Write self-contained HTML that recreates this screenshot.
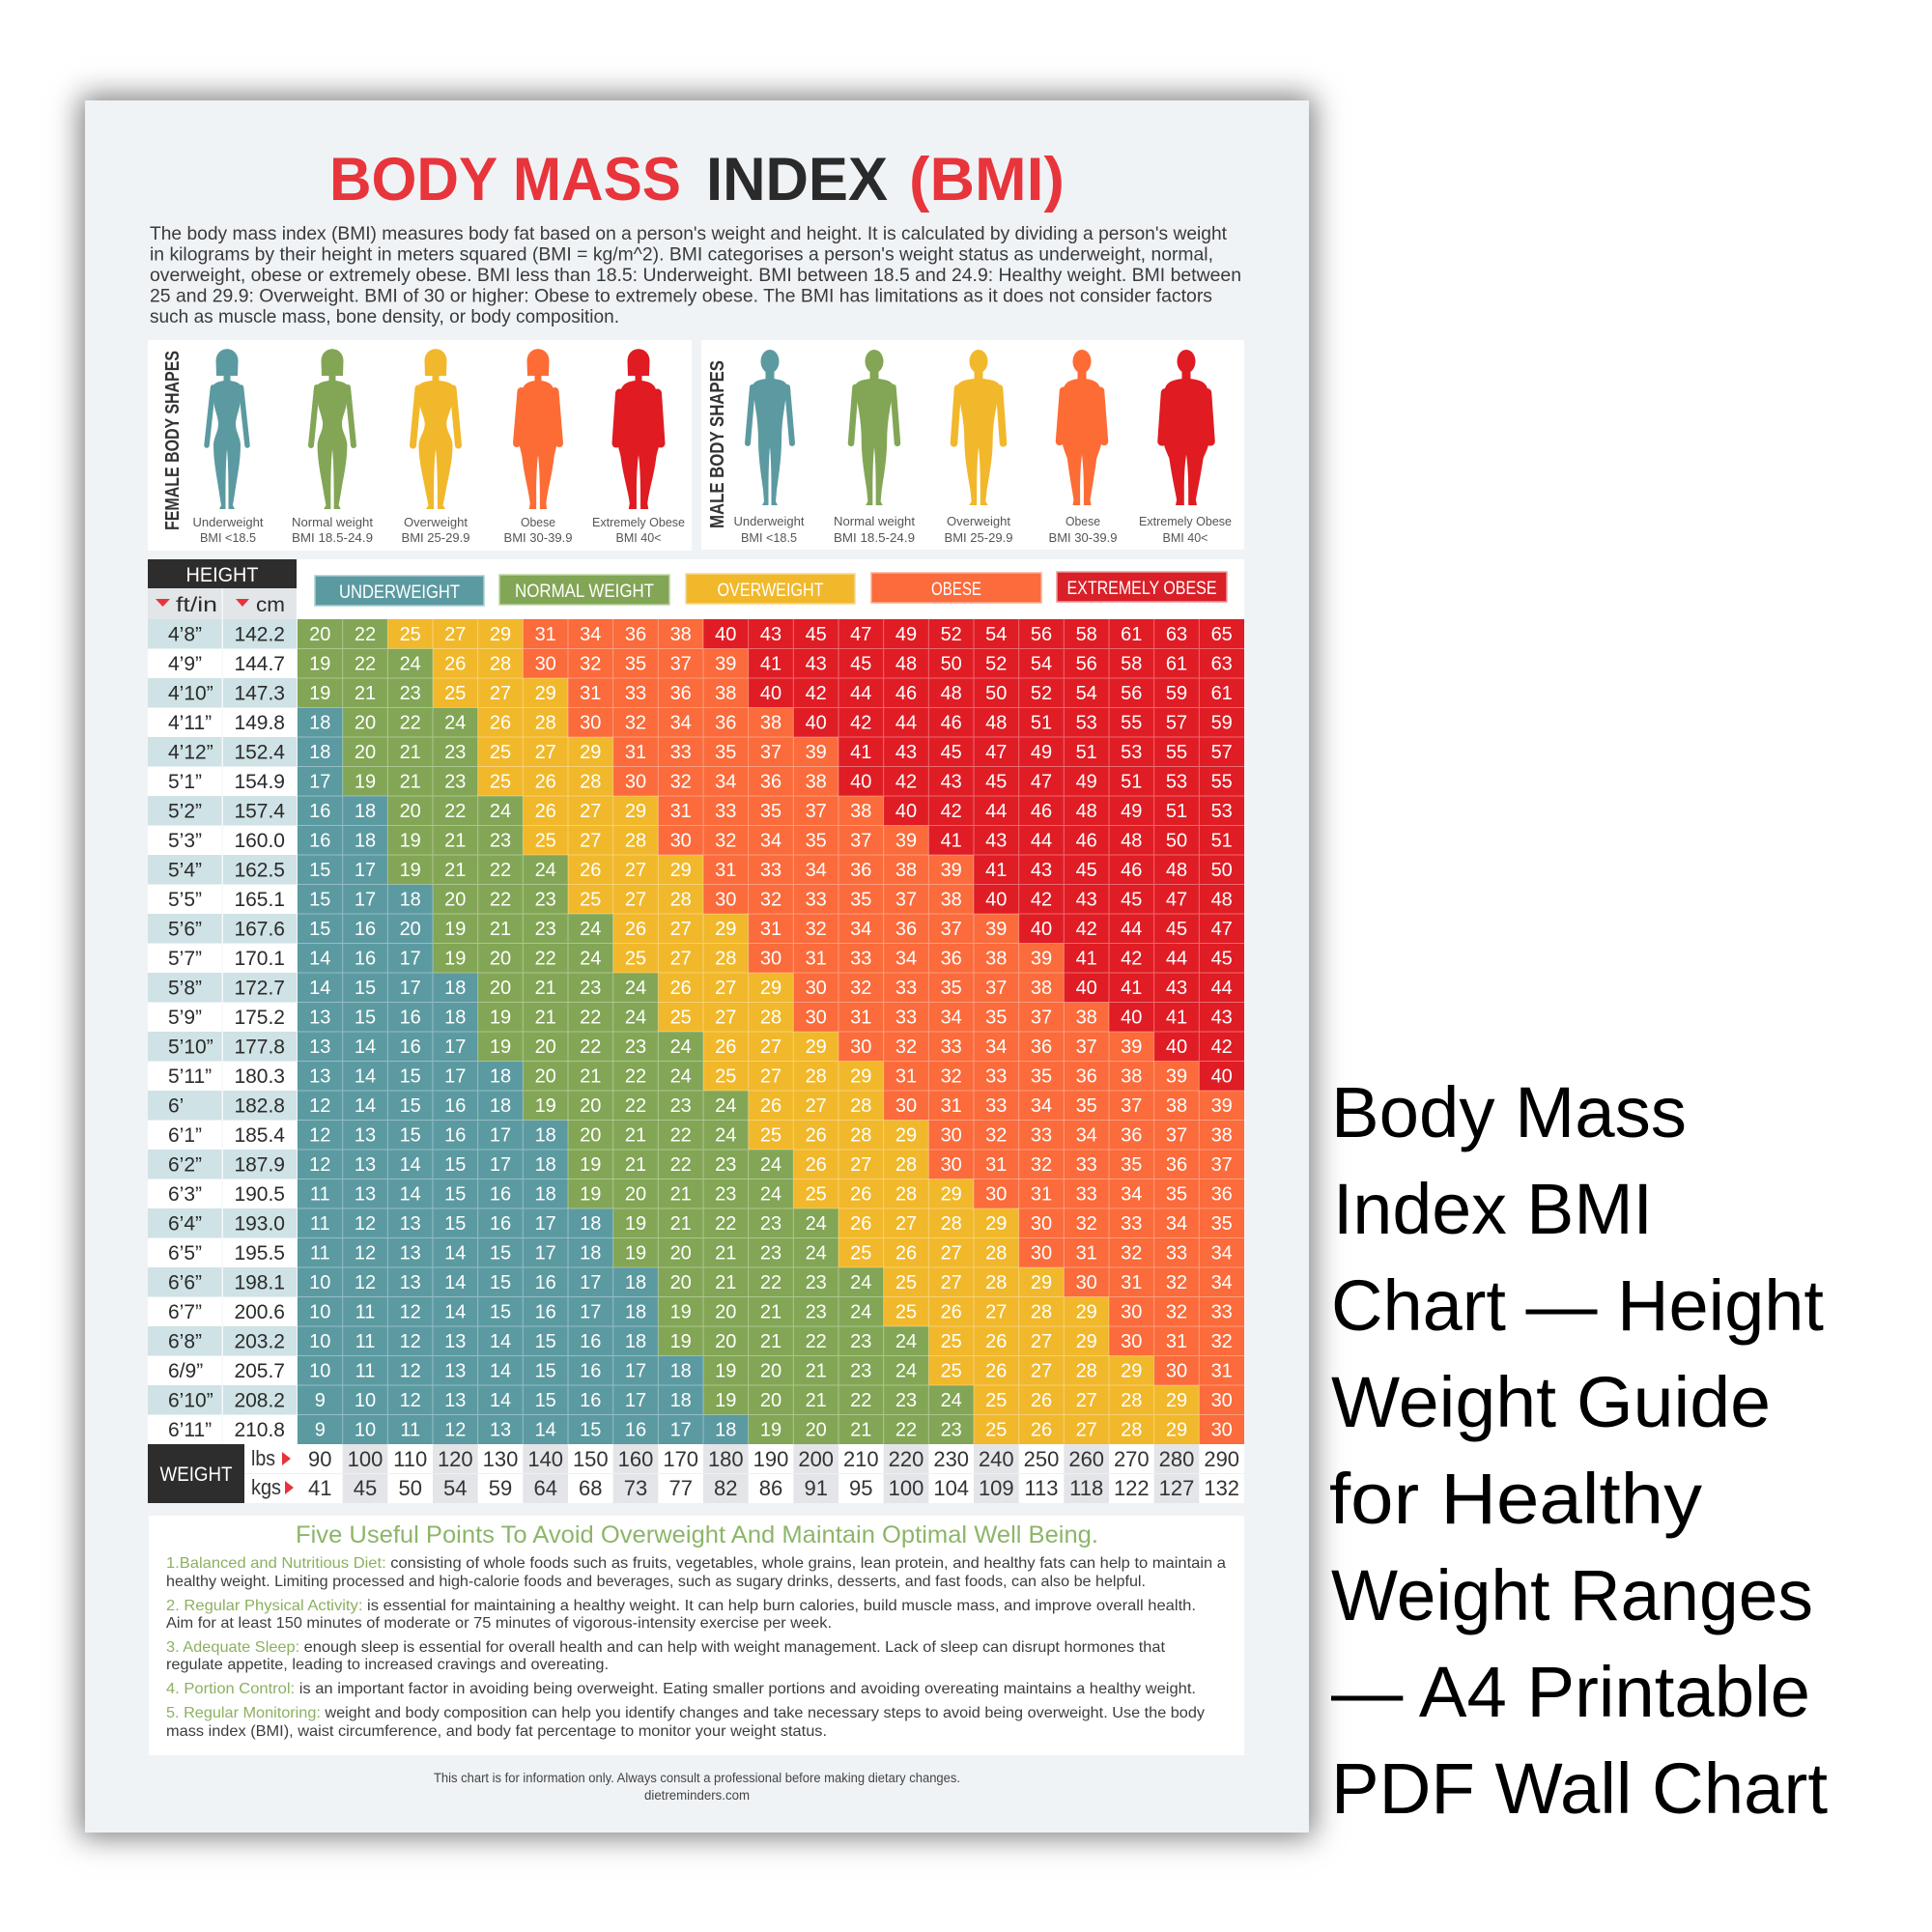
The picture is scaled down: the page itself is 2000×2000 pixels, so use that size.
<!DOCTYPE html>
<html>
<head>
<meta charset="utf-8">
<style>
html,body{margin:0;padding:0;width:2000px;height:2000px;background:#fff;overflow:hidden}
#poster{position:absolute;left:88px;top:104px;width:1267px;height:1793px;background:#f0f3f6;box-shadow:0 0 28px 5px rgba(0,0,0,.5)}
svg{position:absolute;left:0;top:0}
text{font-family:"Liberation Sans",Arial,sans-serif}
.n text{fill:#fff;font-size:20px;text-anchor:middle}
.lf{fill:#2b2b2b;font-size:21px}
.lc{fill:#2b2b2b;font-size:21px;text-anchor:end}
.w text{fill:#333;font-size:22px;text-anchor:middle}
.t{fill:#5c9aa1}.g{fill:#82a655}.y{fill:#f1b82b}.o{fill:#fb6b3b}.r{fill:#e01c24}
.fl{font-size:13px;fill:#555;text-anchor:middle}
.p{font-size:19.5px;fill:#3a3a3a}
.b{font-size:16px;fill:#3d3d3d}
.gr{fill:#8cb060}
.cat{fill:#fff;font-size:19px;text-anchor:middle}
.rt{font-size:74px;fill:#000}
</style>
</head>
<body>
<div id="poster"></div>
<svg width="2000" height="2000" viewBox="0 0 2000 2000" xmlns="http://www.w3.org/2000/svg">
<defs>
  <g id="fhead"><path d="M-11,28 L-11.5,13 C-11.5,-4 11.5,-4 11.5,13 L11,28 Z"/><rect x="-3.5" y="24" width="7" height="12"/></g>
  <path id="fthin" d="M-3.5,33 C-8,34 -14,35 -15,40 L-13,60 C-11,68 -9,73 -9,78 C-9,86 -14,92 -14,100 C-14,118 -10,135 -8,150 L-6,162 L-8,166 L-1.5,166 L-1.5,150 C-1.5,130 -1,115 0,104 C1,115 1.5,130 1.5,150 L1.5,166 L8,166 L6,162 L8,150 C10,135 14,118 14,100 C14,92 9,86 9,78 C9,73 11,68 13,60 L15,40 C14,35 8,34 3.5,33 Z"/>
  <path id="ffat" d="M-3.5,33 C-10,34 -17,36 -18,44 C-21,60 -22,75 -22,90 C-22,100 -19,106 -18,112 C-16,130 -11,145 -9,160 L-10,166 L-2,166 L-2,150 C-2,130 -1,118 0,110 C1,118 2,130 2,150 L2,166 L10,166 L9,160 C11,145 16,130 18,112 C19,106 22,100 22,90 C22,75 21,60 18,44 C17,36 10,34 3.5,33 Z"/>
  <g id="mhead"><ellipse cx="0" cy="12.5" rx="9.5" ry="12.5"/><rect x="-4.5" y="21" width="9" height="13"/></g>
  <path id="mthin" d="M-4.5,31 C-10,32 -17,33 -18,39 L-15,62 C-13,74 -12,86 -12,98 C-12,115 -9,135 -7,150 L-6,162 L-8,166 L-1.5,166 L-1.5,150 C-1.5,130 -1,115 0,104 C1,115 1.5,130 1.5,150 L1.5,166 L8,166 L6,162 L7,150 C9,135 12,115 12,98 C12,86 13,74 15,62 L18,39 C17,33 10,32 4.5,31 Z"/>
  <path id="mfat" d="M-4.5,31 C-11,32 -19,34 -20,42 C-22,60 -23,78 -22,95 C-21,105 -18,110 -16,116 C-14,132 -11,148 -9,160 L-10,166 L-2,166 L-2,150 C-2,132 -1,120 0,112 C1,120 2,132 2,150 L2,166 L10,166 L9,160 C11,148 14,132 16,116 C18,110 21,105 22,95 C23,78 22,60 20,42 C19,34 11,32 4.5,31 Z"/>
</defs>

<!-- TITLE -->
<text x="341" y="207" font-size="63" font-weight="bold" fill="#e8343b" textLength="364" lengthAdjust="spacingAndGlyphs">BODY MASS</text>
<text x="731" y="207" font-size="63" font-weight="bold" fill="#2a2a2a" textLength="188" lengthAdjust="spacingAndGlyphs">INDEX</text>
<text x="941" y="207" font-size="63" font-weight="bold" fill="#e8343b" textLength="161" lengthAdjust="spacingAndGlyphs">(BMI)</text>

<!-- INTRO -->
<text class="p" x="155" y="248" textLength="1115" lengthAdjust="spacingAndGlyphs">The body mass index (BMI) measures body fat based on a person's weight and height. It is calculated by dividing a person's weight</text>
<text class="p" x="155" y="269.5" textLength="1101" lengthAdjust="spacingAndGlyphs">in kilograms by their height in meters squared (BMI = kg/m^2). BMI categorises a person's weight status as underweight, normal,</text>
<text class="p" x="155" y="291" textLength="1130" lengthAdjust="spacingAndGlyphs">overweight, obese or extremely obese. BMI less than 18.5: Underweight. BMI between 18.5 and 24.9: Healthy weight. BMI between</text>
<text class="p" x="155" y="312.5" textLength="1100" lengthAdjust="spacingAndGlyphs">25 and 29.9: Overweight. BMI of 30 or higher: Obese to extremely obese. The BMI has limitations as it does not consider factors</text>
<text class="p" x="155" y="334" textLength="486" lengthAdjust="spacingAndGlyphs">such as muscle mass, bone density, or body composition.</text>

<!-- BODY PANELS -->
<rect x="153" y="352" width="563" height="218" fill="#fff"/>
<rect x="726" y="352" width="562" height="217" fill="#fff"/>
<text transform="translate(185,456) rotate(-90)" text-anchor="middle" font-size="20" font-weight="bold" fill="#333" textLength="186" lengthAdjust="spacingAndGlyphs">FEMALE BODY SHAPES</text>
<text transform="translate(749,460) rotate(-90)" text-anchor="middle" font-size="20" font-weight="bold" fill="#333" textLength="174" lengthAdjust="spacingAndGlyphs">MALE BODY SHAPES</text>

<g transform="translate(235,361)" fill="#5c9aa1" stroke="#5c9aa1">
  <use href="#fhead" stroke="none"/><use href="#fthin" stroke="none"/>
  <path d="M-14.5,40 L-21,100 M14.5,40 L21,100" stroke-width="5.5" stroke-linecap="round" fill="none"/>
</g>
<g transform="translate(344,361)" fill="#82a655" stroke="#82a655">
  <use href="#fhead" stroke="none"/><use href="#fthin" stroke="none" transform="scale(1.1,1)"/>
  <path d="M-16,40 L-22,100 M16,40 L22,100" stroke-width="6" stroke-linecap="round" fill="none"/>
</g>
<g transform="translate(451,361)" fill="#f1b82b" stroke="#f1b82b">
  <use href="#fhead" stroke="none"/><use href="#fthin" stroke="none" transform="scale(1.25,1)"/>
  <path d="M-18,41 L-23.5,100 M18,41 L23.5,100" stroke-width="7" stroke-linecap="round" fill="none"/>
</g>
<g transform="translate(557,361)" fill="#fd6c35" stroke="#fd6c35">
  <use href="#fhead" stroke="none"/><use href="#ffat" stroke="none" transform="scale(0.92,1)"/>
  <path d="M-17.5,44 L-22,98 M17.5,44 L22,98" stroke-width="8" stroke-linecap="round" fill="none"/>
</g>
<g transform="translate(661,361)" fill="#e01b22" stroke="#e01b22">
  <use href="#fhead" stroke="none"/><use href="#ffat" stroke="none" transform="scale(1.02,1)"/>
  <path d="M-19.5,46 L-23,98 M19.5,46 L23,98" stroke-width="9" stroke-linecap="round" fill="none"/>
</g>

<g transform="translate(797,362) scale(1,0.97)" fill="#5c9aa1" stroke="#5c9aa1">
  <use href="#mhead" stroke="none"/><use href="#mthin" stroke="none"/>
  <path d="M-18,40 L-23,100 M18,40 L23,100" stroke-width="6" stroke-linecap="round" fill="none"/>
</g>
<g transform="translate(905,362) scale(1,0.97)" fill="#82a655" stroke="#82a655">
  <use href="#mhead" stroke="none"/><use href="#mthin" stroke="none" transform="scale(1.1,1)"/>
  <path d="M-19.5,40 L-24,100 M19.5,40 L24,100" stroke-width="6.5" stroke-linecap="round" fill="none"/>
</g>
<g transform="translate(1013,362) scale(1,0.97)" fill="#f1b82b" stroke="#f1b82b">
  <use href="#mhead" stroke="none"/><use href="#mthin" stroke="none" transform="scale(1.22,1)"/>
  <path d="M-21.5,41 L-25.5,100 M21.5,41 L25.5,100" stroke-width="7.5" stroke-linecap="round" fill="none"/>
</g>
<g transform="translate(1120,362) scale(1,0.97)" fill="#fd6c35" stroke="#fd6c35">
  <use href="#mhead" stroke="none"/><use href="#mfat" stroke="none" transform="scale(0.95,1)"/>
  <path d="M-19,44 L-23,98 M19,44 L23,98" stroke-width="8.5" stroke-linecap="round" fill="none"/>
</g>
<g transform="translate(1228,362) scale(1,0.97)" fill="#e01b22" stroke="#e01b22">
  <use href="#mhead" stroke="none"/><use href="#mfat" stroke="none" transform="scale(1.1,1)"/>
  <path d="M-21.5,46 L-25,98 M21.5,46 L25,98" stroke-width="9.5" stroke-linecap="round" fill="none"/>
</g>

<g class="fl">
<text x="236" y="545" textLength="73" lengthAdjust="spacingAndGlyphs">Underweight</text>
<text x="344" y="545" textLength="84" lengthAdjust="spacingAndGlyphs">Normal weight</text>
<text x="451" y="545" textLength="66" lengthAdjust="spacingAndGlyphs">Overweight</text>
<text x="557" y="545" textLength="36" lengthAdjust="spacingAndGlyphs">Obese</text>
<text x="661" y="545" textLength="96" lengthAdjust="spacingAndGlyphs">Extremely Obese</text>
<text x="236" y="561" textLength="58" lengthAdjust="spacingAndGlyphs">BMI &lt;18.5</text>
<text x="344" y="561" textLength="84" lengthAdjust="spacingAndGlyphs">BMI 18.5-24.9</text>
<text x="451" y="561" textLength="71" lengthAdjust="spacingAndGlyphs">BMI 25-29.9</text>
<text x="557" y="561" textLength="71" lengthAdjust="spacingAndGlyphs">BMI 30-39.9</text>
<text x="661" y="561" textLength="47" lengthAdjust="spacingAndGlyphs">BMI 40&lt;</text>
<text x="796" y="544" textLength="73" lengthAdjust="spacingAndGlyphs">Underweight</text>
<text x="905" y="544" textLength="84" lengthAdjust="spacingAndGlyphs">Normal weight</text>
<text x="1013" y="544" textLength="66" lengthAdjust="spacingAndGlyphs">Overweight</text>
<text x="1121" y="544" textLength="36" lengthAdjust="spacingAndGlyphs">Obese</text>
<text x="1227" y="544" textLength="96" lengthAdjust="spacingAndGlyphs">Extremely Obese</text>
<text x="796" y="561" textLength="58" lengthAdjust="spacingAndGlyphs">BMI &lt;18.5</text>
<text x="905" y="561" textLength="84" lengthAdjust="spacingAndGlyphs">BMI 18.5-24.9</text>
<text x="1013" y="561" textLength="71" lengthAdjust="spacingAndGlyphs">BMI 25-29.9</text>
<text x="1121" y="561" textLength="71" lengthAdjust="spacingAndGlyphs">BMI 30-39.9</text>
<text x="1227" y="561" textLength="47" lengthAdjust="spacingAndGlyphs">BMI 40&lt;</text>
</g>

<!-- TABLE HEADER -->
<rect x="307" y="579" width="981" height="62" fill="#fff"/>
<rect x="153" y="579" width="154" height="30" fill="#2d2d2d"/>
<text x="230" y="602" text-anchor="middle" font-size="21" fill="#fff" textLength="75" lengthAdjust="spacingAndGlyphs">HEIGHT</text>
<rect x="153" y="609" width="154" height="32" fill="#e3e6e9"/>
<rect x="229.5" y="609" width="1.5" height="32" fill="#f4f6f7"/>
<polygon points="161,620 176,620 168.5,628" fill="#e8333a"/>
<polygon points="244,620 258,620 251,628" fill="#e8333a"/>
<text x="182" y="633" font-size="21" fill="#2b2b2b" textLength="43" lengthAdjust="spacingAndGlyphs">ft/in</text>
<text x="265" y="633" font-size="21" fill="#2b2b2b" textLength="30" lengthAdjust="spacingAndGlyphs">cm</text>

<rect x="326" y="596" width="175" height="31" fill="#5c9aa1" stroke="#a9cdd1" stroke-width="1.5"/>
<rect x="517" y="595" width="176" height="31" fill="#82a655" stroke="#bcd5a0" stroke-width="1.5"/>
<rect x="710" y="594" width="175" height="31" fill="#f1b82b" stroke="#f7d98a" stroke-width="1.5"/>
<rect x="902" y="593" width="176" height="31" fill="#fb6b3b" stroke="#fcae92" stroke-width="1.5"/>
<rect x="1094" y="592" width="176" height="31" fill="#d91f28" stroke="#f09a9a" stroke-width="1.5"/>
<text class="cat" x="413.5" y="619" textLength="125" lengthAdjust="spacingAndGlyphs">UNDERWEIGHT</text>
<text class="cat" x="605" y="618" textLength="144" lengthAdjust="spacingAndGlyphs">NORMAL WEIGHT</text>
<text class="cat" x="797.5" y="617" textLength="110" lengthAdjust="spacingAndGlyphs">OVERWEIGHT</text>
<text class="cat" x="990" y="616" textLength="52" lengthAdjust="spacingAndGlyphs">OBESE</text>
<text class="cat" x="1182" y="615" textLength="155" lengthAdjust="spacingAndGlyphs">EXTREMELY OBESE</text>

<!-- LEFT LABEL COLUMN BACKGROUND -->
<rect x="153" y="641" width="154" height="854" fill="#fff"/>
<g fill="#cfe2e5">
<rect x="153" y="641" width="154" height="30.5"/>
<rect x="153" y="702" width="154" height="30.5"/>
<rect x="153" y="763" width="154" height="30.5"/>
<rect x="153" y="824" width="154" height="30.5"/>
<rect x="153" y="885" width="154" height="30.5"/>
<rect x="153" y="946" width="154" height="30.5"/>
<rect x="153" y="1007" width="154" height="30.5"/>
<rect x="153" y="1068" width="154" height="30.5"/>
<rect x="153" y="1129" width="154" height="30.5"/>
<rect x="153" y="1190" width="154" height="30.5"/>
<rect x="153" y="1251" width="154" height="30.5"/>
<rect x="153" y="1312" width="154" height="30.5"/>
<rect x="153" y="1373" width="154" height="30.5"/>
<rect x="153" y="1434" width="154" height="30.5"/>
</g>
<rect x="229.5" y="641" width="1.5" height="854" fill="#f4f8f9"/>

<!-- DATA COLOR RUNS -->
<g transform="translate(308,641)"><rect class="r" width="980" height="30.5"/><rect class="o" width="420" height="30.5"/><rect class="y" width="233.33" height="30.5"/><rect class="g" width="93.33" height="30.5"/></g>
<g transform="translate(308,671.5)"><rect class="r" width="980" height="30.5"/><rect class="o" width="466.67" height="30.5"/><rect class="y" width="233.33" height="30.5"/><rect class="g" width="140" height="30.5"/></g>
<g transform="translate(308,702)"><rect class="r" width="980" height="30.5"/><rect class="o" width="466.67" height="30.5"/><rect class="y" width="280" height="30.5"/><rect class="g" width="140" height="30.5"/></g>
<g transform="translate(308,732.5)"><rect class="r" width="980" height="30.5"/><rect class="o" width="513.33" height="30.5"/><rect class="y" width="280" height="30.5"/><rect class="g" width="186.67" height="30.5"/><rect class="t" width="46.67" height="30.5"/></g>
<g transform="translate(308,763)"><rect class="r" width="980" height="30.5"/><rect class="o" width="560" height="30.5"/><rect class="y" width="326.67" height="30.5"/><rect class="g" width="186.67" height="30.5"/><rect class="t" width="46.67" height="30.5"/></g>
<g transform="translate(308,793.5)"><rect class="r" width="980" height="30.5"/><rect class="o" width="560" height="30.5"/><rect class="y" width="326.67" height="30.5"/><rect class="g" width="186.67" height="30.5"/><rect class="t" width="46.67" height="30.5"/></g>
<g transform="translate(308,824)"><rect class="r" width="980" height="30.5"/><rect class="o" width="606.67" height="30.5"/><rect class="y" width="373.33" height="30.5"/><rect class="g" width="233.33" height="30.5"/><rect class="t" width="93.33" height="30.5"/></g>
<g transform="translate(308,854.5)"><rect class="r" width="980" height="30.5"/><rect class="o" width="653.33" height="30.5"/><rect class="y" width="373.33" height="30.5"/><rect class="g" width="233.33" height="30.5"/><rect class="t" width="93.33" height="30.5"/></g>
<g transform="translate(308,885)"><rect class="r" width="980" height="30.5"/><rect class="o" width="700" height="30.5"/><rect class="y" width="420" height="30.5"/><rect class="g" width="280" height="30.5"/><rect class="t" width="93.33" height="30.5"/></g>
<g transform="translate(308,915.5)"><rect class="r" width="980" height="30.5"/><rect class="o" width="700" height="30.5"/><rect class="y" width="420" height="30.5"/><rect class="g" width="280" height="30.5"/><rect class="t" width="140" height="30.5"/></g>
<g transform="translate(308,946)"><rect class="r" width="980" height="30.5"/><rect class="o" width="746.67" height="30.5"/><rect class="y" width="466.67" height="30.5"/><rect class="g" width="326.67" height="30.5"/><rect class="t" width="140" height="30.5"/></g>
<g transform="translate(308,976.5)"><rect class="r" width="980" height="30.5"/><rect class="o" width="793.33" height="30.5"/><rect class="y" width="466.67" height="30.5"/><rect class="g" width="326.67" height="30.5"/><rect class="t" width="140" height="30.5"/></g>
<g transform="translate(308,1007)"><rect class="r" width="980" height="30.5"/><rect class="o" width="793.33" height="30.5"/><rect class="y" width="513.33" height="30.5"/><rect class="g" width="373.33" height="30.5"/><rect class="t" width="186.67" height="30.5"/></g>
<g transform="translate(308,1037.5)"><rect class="r" width="980" height="30.5"/><rect class="o" width="840" height="30.5"/><rect class="y" width="513.33" height="30.5"/><rect class="g" width="373.33" height="30.5"/><rect class="t" width="186.67" height="30.5"/></g>
<g transform="translate(308,1068)"><rect class="r" width="980" height="30.5"/><rect class="o" width="886.67" height="30.5"/><rect class="y" width="560" height="30.5"/><rect class="g" width="420" height="30.5"/><rect class="t" width="186.67" height="30.5"/></g>
<g transform="translate(308,1098.5)"><rect class="r" width="980" height="30.5"/><rect class="o" width="933.33" height="30.5"/><rect class="y" width="606.67" height="30.5"/><rect class="g" width="420" height="30.5"/><rect class="t" width="233.33" height="30.5"/></g>
<g transform="translate(308,1129)"><rect class="o" width="980" height="30.5"/><rect class="y" width="606.67" height="30.5"/><rect class="g" width="466.67" height="30.5"/><rect class="t" width="233.33" height="30.5"/></g>
<g transform="translate(308,1159.5)"><rect class="o" width="980" height="30.5"/><rect class="y" width="653.33" height="30.5"/><rect class="g" width="466.67" height="30.5"/><rect class="t" width="280" height="30.5"/></g>
<g transform="translate(308,1190)"><rect class="o" width="980" height="30.5"/><rect class="y" width="653.33" height="30.5"/><rect class="g" width="513.33" height="30.5"/><rect class="t" width="280" height="30.5"/></g>
<g transform="translate(308,1220.5)"><rect class="o" width="980" height="30.5"/><rect class="y" width="700" height="30.5"/><rect class="g" width="513.33" height="30.5"/><rect class="t" width="280" height="30.5"/></g>
<g transform="translate(308,1251)"><rect class="o" width="980" height="30.5"/><rect class="y" width="746.67" height="30.5"/><rect class="g" width="560" height="30.5"/><rect class="t" width="326.67" height="30.5"/></g>
<g transform="translate(308,1281.5)"><rect class="o" width="980" height="30.5"/><rect class="y" width="746.67" height="30.5"/><rect class="g" width="560" height="30.5"/><rect class="t" width="326.67" height="30.5"/></g>
<g transform="translate(308,1312)"><rect class="o" width="980" height="30.5"/><rect class="y" width="793.33" height="30.5"/><rect class="g" width="606.67" height="30.5"/><rect class="t" width="373.33" height="30.5"/></g>
<g transform="translate(308,1342.5)"><rect class="o" width="980" height="30.5"/><rect class="y" width="840" height="30.5"/><rect class="g" width="606.67" height="30.5"/><rect class="t" width="373.33" height="30.5"/></g>
<g transform="translate(308,1373)"><rect class="o" width="980" height="30.5"/><rect class="y" width="840" height="30.5"/><rect class="g" width="653.33" height="30.5"/><rect class="t" width="373.33" height="30.5"/></g>
<g transform="translate(308,1403.5)"><rect class="o" width="980" height="30.5"/><rect class="y" width="886.67" height="30.5"/><rect class="g" width="653.33" height="30.5"/><rect class="t" width="420" height="30.5"/></g>
<g transform="translate(308,1434)"><rect class="o" width="980" height="30.5"/><rect class="y" width="933.33" height="30.5"/><rect class="g" width="700" height="30.5"/><rect class="t" width="420" height="30.5"/></g>
<g transform="translate(308,1464.5)"><rect class="o" width="980" height="30.5"/><rect class="y" width="933.33" height="30.5"/><rect class="g" width="700" height="30.5"/><rect class="t" width="466.67" height="30.5"/></g>

<!-- GRID LINES -->
<path stroke="rgba(255,255,255,0.35)" stroke-width="1" fill="none" d="M354.67,641V1495M401.33,641V1495M448,641V1495M494.67,641V1495M541.33,641V1495M588,641V1495M634.67,641V1495M681.33,641V1495M728,641V1495M774.67,641V1495M821.33,641V1495M868,641V1495M914.67,641V1495M961.33,641V1495M1008,641V1495M1054.67,641V1495M1101.33,641V1495M1148,641V1495M1194.67,641V1495M1241.33,641V1495
M308,671.5H1288M308,702H1288M308,732.5H1288M308,763H1288M308,793.5H1288M308,824H1288M308,854.5H1288M308,885H1288M308,915.5H1288M308,946H1288M308,976.5H1288M308,1007H1288M308,1037.5H1288M308,1068H1288M308,1098.5H1288M308,1129H1288M308,1159.5H1288M308,1190H1288M308,1220.5H1288M308,1251H1288M308,1281.5H1288M308,1312H1288M308,1342.5H1288M308,1373H1288M308,1403.5H1288M308,1434H1288M308,1464.5H1288"/>

<!-- ROW LABELS -->
<g>
<text class="lf" x="174" y="663.5">4’8”</text><text class="lc" x="295" y="663.5">142.2</text>
<text class="lf" x="174" y="694">4’9”</text><text class="lc" x="295" y="694">144.7</text>
<text class="lf" x="174" y="724.5">4’10”</text><text class="lc" x="295" y="724.5">147.3</text>
<text class="lf" x="174" y="755">4’11”</text><text class="lc" x="295" y="755">149.8</text>
<text class="lf" x="174" y="785.5">4’12”</text><text class="lc" x="295" y="785.5">152.4</text>
<text class="lf" x="174" y="816">5’1”</text><text class="lc" x="295" y="816">154.9</text>
<text class="lf" x="174" y="846.5">5’2”</text><text class="lc" x="295" y="846.5">157.4</text>
<text class="lf" x="174" y="877">5’3”</text><text class="lc" x="295" y="877">160.0</text>
<text class="lf" x="174" y="907.5">5’4”</text><text class="lc" x="295" y="907.5">162.5</text>
<text class="lf" x="174" y="938">5’5”</text><text class="lc" x="295" y="938">165.1</text>
<text class="lf" x="174" y="968.5">5’6”</text><text class="lc" x="295" y="968.5">167.6</text>
<text class="lf" x="174" y="999">5’7”</text><text class="lc" x="295" y="999">170.1</text>
<text class="lf" x="174" y="1029.5">5’8”</text><text class="lc" x="295" y="1029.5">172.7</text>
<text class="lf" x="174" y="1060">5’9”</text><text class="lc" x="295" y="1060">175.2</text>
<text class="lf" x="174" y="1090.5">5’10”</text><text class="lc" x="295" y="1090.5">177.8</text>
<text class="lf" x="174" y="1121">5’11”</text><text class="lc" x="295" y="1121">180.3</text>
<text class="lf" x="174" y="1151.5">6’</text><text class="lc" x="295" y="1151.5">182.8</text>
<text class="lf" x="174" y="1182">6’1”</text><text class="lc" x="295" y="1182">185.4</text>
<text class="lf" x="174" y="1212.5">6’2”</text><text class="lc" x="295" y="1212.5">187.9</text>
<text class="lf" x="174" y="1243">6’3”</text><text class="lc" x="295" y="1243">190.5</text>
<text class="lf" x="174" y="1273.5">6’4”</text><text class="lc" x="295" y="1273.5">193.0</text>
<text class="lf" x="174" y="1304">6’5”</text><text class="lc" x="295" y="1304">195.5</text>
<text class="lf" x="174" y="1334.5">6’6”</text><text class="lc" x="295" y="1334.5">198.1</text>
<text class="lf" x="174" y="1365">6’7”</text><text class="lc" x="295" y="1365">200.6</text>
<text class="lf" x="174" y="1395.5">6’8”</text><text class="lc" x="295" y="1395.5">203.2</text>
<text class="lf" x="174" y="1426">6/9”</text><text class="lc" x="295" y="1426">205.7</text>
<text class="lf" x="174" y="1456.5">6’10”</text><text class="lc" x="295" y="1456.5">208.2</text>
<text class="lf" x="174" y="1487">6’11”</text><text class="lc" x="295" y="1487">210.8</text>
</g>

<!-- DATA NUMBERS -->
<g class="n" transform="translate(0,663)"><text x="331.3">20</text><text x="378">22</text><text x="424.7">25</text><text x="471.3">27</text><text x="518">29</text><text x="564.7">31</text><text x="611.3">34</text><text x="658">36</text><text x="704.7">38</text><text x="751.3">40</text><text x="798">43</text><text x="844.7">45</text><text x="891.3">47</text><text x="938">49</text><text x="984.7">52</text><text x="1031.3">54</text><text x="1078">56</text><text x="1124.7">58</text><text x="1171.3">61</text><text x="1218">63</text><text x="1264.7">65</text></g>
<g class="n" transform="translate(0,693.5)"><text x="331.3">19</text><text x="378">22</text><text x="424.7">24</text><text x="471.3">26</text><text x="518">28</text><text x="564.7">30</text><text x="611.3">32</text><text x="658">35</text><text x="704.7">37</text><text x="751.3">39</text><text x="798">41</text><text x="844.7">43</text><text x="891.3">45</text><text x="938">48</text><text x="984.7">50</text><text x="1031.3">52</text><text x="1078">54</text><text x="1124.7">56</text><text x="1171.3">58</text><text x="1218">61</text><text x="1264.7">63</text></g>
<g class="n" transform="translate(0,724)"><text x="331.3">19</text><text x="378">21</text><text x="424.7">23</text><text x="471.3">25</text><text x="518">27</text><text x="564.7">29</text><text x="611.3">31</text><text x="658">33</text><text x="704.7">36</text><text x="751.3">38</text><text x="798">40</text><text x="844.7">42</text><text x="891.3">44</text><text x="938">46</text><text x="984.7">48</text><text x="1031.3">50</text><text x="1078">52</text><text x="1124.7">54</text><text x="1171.3">56</text><text x="1218">59</text><text x="1264.7">61</text></g>
<g class="n" transform="translate(0,754.5)"><text x="331.3">18</text><text x="378">20</text><text x="424.7">22</text><text x="471.3">24</text><text x="518">26</text><text x="564.7">28</text><text x="611.3">30</text><text x="658">32</text><text x="704.7">34</text><text x="751.3">36</text><text x="798">38</text><text x="844.7">40</text><text x="891.3">42</text><text x="938">44</text><text x="984.7">46</text><text x="1031.3">48</text><text x="1078">51</text><text x="1124.7">53</text><text x="1171.3">55</text><text x="1218">57</text><text x="1264.7">59</text></g>
<g class="n" transform="translate(0,785)"><text x="331.3">18</text><text x="378">20</text><text x="424.7">21</text><text x="471.3">23</text><text x="518">25</text><text x="564.7">27</text><text x="611.3">29</text><text x="658">31</text><text x="704.7">33</text><text x="751.3">35</text><text x="798">37</text><text x="844.7">39</text><text x="891.3">41</text><text x="938">43</text><text x="984.7">45</text><text x="1031.3">47</text><text x="1078">49</text><text x="1124.7">51</text><text x="1171.3">53</text><text x="1218">55</text><text x="1264.7">57</text></g>
<g class="n" transform="translate(0,815.5)"><text x="331.3">17</text><text x="378">19</text><text x="424.7">21</text><text x="471.3">23</text><text x="518">25</text><text x="564.7">26</text><text x="611.3">28</text><text x="658">30</text><text x="704.7">32</text><text x="751.3">34</text><text x="798">36</text><text x="844.7">38</text><text x="891.3">40</text><text x="938">42</text><text x="984.7">43</text><text x="1031.3">45</text><text x="1078">47</text><text x="1124.7">49</text><text x="1171.3">51</text><text x="1218">53</text><text x="1264.7">55</text></g>
<g class="n" transform="translate(0,846)"><text x="331.3">16</text><text x="378">18</text><text x="424.7">20</text><text x="471.3">22</text><text x="518">24</text><text x="564.7">26</text><text x="611.3">27</text><text x="658">29</text><text x="704.7">31</text><text x="751.3">33</text><text x="798">35</text><text x="844.7">37</text><text x="891.3">38</text><text x="938">40</text><text x="984.7">42</text><text x="1031.3">44</text><text x="1078">46</text><text x="1124.7">48</text><text x="1171.3">49</text><text x="1218">51</text><text x="1264.7">53</text></g>
<g class="n" transform="translate(0,876.5)"><text x="331.3">16</text><text x="378">18</text><text x="424.7">19</text><text x="471.3">21</text><text x="518">23</text><text x="564.7">25</text><text x="611.3">27</text><text x="658">28</text><text x="704.7">30</text><text x="751.3">32</text><text x="798">34</text><text x="844.7">35</text><text x="891.3">37</text><text x="938">39</text><text x="984.7">41</text><text x="1031.3">43</text><text x="1078">44</text><text x="1124.7">46</text><text x="1171.3">48</text><text x="1218">50</text><text x="1264.7">51</text></g>
<g class="n" transform="translate(0,907)"><text x="331.3">15</text><text x="378">17</text><text x="424.7">19</text><text x="471.3">21</text><text x="518">22</text><text x="564.7">24</text><text x="611.3">26</text><text x="658">27</text><text x="704.7">29</text><text x="751.3">31</text><text x="798">33</text><text x="844.7">34</text><text x="891.3">36</text><text x="938">38</text><text x="984.7">39</text><text x="1031.3">41</text><text x="1078">43</text><text x="1124.7">45</text><text x="1171.3">46</text><text x="1218">48</text><text x="1264.7">50</text></g>
<g class="n" transform="translate(0,937.5)"><text x="331.3">15</text><text x="378">17</text><text x="424.7">18</text><text x="471.3">20</text><text x="518">22</text><text x="564.7">23</text><text x="611.3">25</text><text x="658">27</text><text x="704.7">28</text><text x="751.3">30</text><text x="798">32</text><text x="844.7">33</text><text x="891.3">35</text><text x="938">37</text><text x="984.7">38</text><text x="1031.3">40</text><text x="1078">42</text><text x="1124.7">43</text><text x="1171.3">45</text><text x="1218">47</text><text x="1264.7">48</text></g>
<g class="n" transform="translate(0,968)"><text x="331.3">15</text><text x="378">16</text><text x="424.7">20</text><text x="471.3">19</text><text x="518">21</text><text x="564.7">23</text><text x="611.3">24</text><text x="658">26</text><text x="704.7">27</text><text x="751.3">29</text><text x="798">31</text><text x="844.7">32</text><text x="891.3">34</text><text x="938">36</text><text x="984.7">37</text><text x="1031.3">39</text><text x="1078">40</text><text x="1124.7">42</text><text x="1171.3">44</text><text x="1218">45</text><text x="1264.7">47</text></g>
<g class="n" transform="translate(0,998.5)"><text x="331.3">14</text><text x="378">16</text><text x="424.7">17</text><text x="471.3">19</text><text x="518">20</text><text x="564.7">22</text><text x="611.3">24</text><text x="658">25</text><text x="704.7">27</text><text x="751.3">28</text><text x="798">30</text><text x="844.7">31</text><text x="891.3">33</text><text x="938">34</text><text x="984.7">36</text><text x="1031.3">38</text><text x="1078">39</text><text x="1124.7">41</text><text x="1171.3">42</text><text x="1218">44</text><text x="1264.7">45</text></g>
<g class="n" transform="translate(0,1029)"><text x="331.3">14</text><text x="378">15</text><text x="424.7">17</text><text x="471.3">18</text><text x="518">20</text><text x="564.7">21</text><text x="611.3">23</text><text x="658">24</text><text x="704.7">26</text><text x="751.3">27</text><text x="798">29</text><text x="844.7">30</text><text x="891.3">32</text><text x="938">33</text><text x="984.7">35</text><text x="1031.3">37</text><text x="1078">38</text><text x="1124.7">40</text><text x="1171.3">41</text><text x="1218">43</text><text x="1264.7">44</text></g>
<g class="n" transform="translate(0,1059.5)"><text x="331.3">13</text><text x="378">15</text><text x="424.7">16</text><text x="471.3">18</text><text x="518">19</text><text x="564.7">21</text><text x="611.3">22</text><text x="658">24</text><text x="704.7">25</text><text x="751.3">27</text><text x="798">28</text><text x="844.7">30</text><text x="891.3">31</text><text x="938">33</text><text x="984.7">34</text><text x="1031.3">35</text><text x="1078">37</text><text x="1124.7">38</text><text x="1171.3">40</text><text x="1218">41</text><text x="1264.7">43</text></g>
<g class="n" transform="translate(0,1090)"><text x="331.3">13</text><text x="378">14</text><text x="424.7">16</text><text x="471.3">17</text><text x="518">19</text><text x="564.7">20</text><text x="611.3">22</text><text x="658">23</text><text x="704.7">24</text><text x="751.3">26</text><text x="798">27</text><text x="844.7">29</text><text x="891.3">30</text><text x="938">32</text><text x="984.7">33</text><text x="1031.3">34</text><text x="1078">36</text><text x="1124.7">37</text><text x="1171.3">39</text><text x="1218">40</text><text x="1264.7">42</text></g>
<g class="n" transform="translate(0,1120.5)"><text x="331.3">13</text><text x="378">14</text><text x="424.7">15</text><text x="471.3">17</text><text x="518">18</text><text x="564.7">20</text><text x="611.3">21</text><text x="658">22</text><text x="704.7">24</text><text x="751.3">25</text><text x="798">27</text><text x="844.7">28</text><text x="891.3">29</text><text x="938">31</text><text x="984.7">32</text><text x="1031.3">33</text><text x="1078">35</text><text x="1124.7">36</text><text x="1171.3">38</text><text x="1218">39</text><text x="1264.7">40</text></g>
<g class="n" transform="translate(0,1151)"><text x="331.3">12</text><text x="378">14</text><text x="424.7">15</text><text x="471.3">16</text><text x="518">18</text><text x="564.7">19</text><text x="611.3">20</text><text x="658">22</text><text x="704.7">23</text><text x="751.3">24</text><text x="798">26</text><text x="844.7">27</text><text x="891.3">28</text><text x="938">30</text><text x="984.7">31</text><text x="1031.3">33</text><text x="1078">34</text><text x="1124.7">35</text><text x="1171.3">37</text><text x="1218">38</text><text x="1264.7">39</text></g>
<g class="n" transform="translate(0,1181.5)"><text x="331.3">12</text><text x="378">13</text><text x="424.7">15</text><text x="471.3">16</text><text x="518">17</text><text x="564.7">18</text><text x="611.3">20</text><text x="658">21</text><text x="704.7">22</text><text x="751.3">24</text><text x="798">25</text><text x="844.7">26</text><text x="891.3">28</text><text x="938">29</text><text x="984.7">30</text><text x="1031.3">32</text><text x="1078">33</text><text x="1124.7">34</text><text x="1171.3">36</text><text x="1218">37</text><text x="1264.7">38</text></g>
<g class="n" transform="translate(0,1212)"><text x="331.3">12</text><text x="378">13</text><text x="424.7">14</text><text x="471.3">15</text><text x="518">17</text><text x="564.7">18</text><text x="611.3">19</text><text x="658">21</text><text x="704.7">22</text><text x="751.3">23</text><text x="798">24</text><text x="844.7">26</text><text x="891.3">27</text><text x="938">28</text><text x="984.7">30</text><text x="1031.3">31</text><text x="1078">32</text><text x="1124.7">33</text><text x="1171.3">35</text><text x="1218">36</text><text x="1264.7">37</text></g>
<g class="n" transform="translate(0,1242.5)"><text x="331.3">11</text><text x="378">13</text><text x="424.7">14</text><text x="471.3">15</text><text x="518">16</text><text x="564.7">18</text><text x="611.3">19</text><text x="658">20</text><text x="704.7">21</text><text x="751.3">23</text><text x="798">24</text><text x="844.7">25</text><text x="891.3">26</text><text x="938">28</text><text x="984.7">29</text><text x="1031.3">30</text><text x="1078">31</text><text x="1124.7">33</text><text x="1171.3">34</text><text x="1218">35</text><text x="1264.7">36</text></g>
<g class="n" transform="translate(0,1273)"><text x="331.3">11</text><text x="378">12</text><text x="424.7">13</text><text x="471.3">15</text><text x="518">16</text><text x="564.7">17</text><text x="611.3">18</text><text x="658">19</text><text x="704.7">21</text><text x="751.3">22</text><text x="798">23</text><text x="844.7">24</text><text x="891.3">26</text><text x="938">27</text><text x="984.7">28</text><text x="1031.3">29</text><text x="1078">30</text><text x="1124.7">32</text><text x="1171.3">33</text><text x="1218">34</text><text x="1264.7">35</text></g>
<g class="n" transform="translate(0,1303.5)"><text x="331.3">11</text><text x="378">12</text><text x="424.7">13</text><text x="471.3">14</text><text x="518">15</text><text x="564.7">17</text><text x="611.3">18</text><text x="658">19</text><text x="704.7">20</text><text x="751.3">21</text><text x="798">23</text><text x="844.7">24</text><text x="891.3">25</text><text x="938">26</text><text x="984.7">27</text><text x="1031.3">28</text><text x="1078">30</text><text x="1124.7">31</text><text x="1171.3">32</text><text x="1218">33</text><text x="1264.7">34</text></g>
<g class="n" transform="translate(0,1334)"><text x="331.3">10</text><text x="378">12</text><text x="424.7">13</text><text x="471.3">14</text><text x="518">15</text><text x="564.7">16</text><text x="611.3">17</text><text x="658">18</text><text x="704.7">20</text><text x="751.3">21</text><text x="798">22</text><text x="844.7">23</text><text x="891.3">24</text><text x="938">25</text><text x="984.7">27</text><text x="1031.3">28</text><text x="1078">29</text><text x="1124.7">30</text><text x="1171.3">31</text><text x="1218">32</text><text x="1264.7">34</text></g>
<g class="n" transform="translate(0,1364.5)"><text x="331.3">10</text><text x="378">11</text><text x="424.7">12</text><text x="471.3">14</text><text x="518">15</text><text x="564.7">16</text><text x="611.3">17</text><text x="658">18</text><text x="704.7">19</text><text x="751.3">20</text><text x="798">21</text><text x="844.7">23</text><text x="891.3">24</text><text x="938">25</text><text x="984.7">26</text><text x="1031.3">27</text><text x="1078">28</text><text x="1124.7">29</text><text x="1171.3">30</text><text x="1218">32</text><text x="1264.7">33</text></g>
<g class="n" transform="translate(0,1395)"><text x="331.3">10</text><text x="378">11</text><text x="424.7">12</text><text x="471.3">13</text><text x="518">14</text><text x="564.7">15</text><text x="611.3">16</text><text x="658">18</text><text x="704.7">19</text><text x="751.3">20</text><text x="798">21</text><text x="844.7">22</text><text x="891.3">23</text><text x="938">24</text><text x="984.7">25</text><text x="1031.3">26</text><text x="1078">27</text><text x="1124.7">29</text><text x="1171.3">30</text><text x="1218">31</text><text x="1264.7">32</text></g>
<g class="n" transform="translate(0,1425.5)"><text x="331.3">10</text><text x="378">11</text><text x="424.7">12</text><text x="471.3">13</text><text x="518">14</text><text x="564.7">15</text><text x="611.3">16</text><text x="658">17</text><text x="704.7">18</text><text x="751.3">19</text><text x="798">20</text><text x="844.7">21</text><text x="891.3">23</text><text x="938">24</text><text x="984.7">25</text><text x="1031.3">26</text><text x="1078">27</text><text x="1124.7">28</text><text x="1171.3">29</text><text x="1218">30</text><text x="1264.7">31</text></g>
<g class="n" transform="translate(0,1456)"><text x="331.3">9</text><text x="378">10</text><text x="424.7">12</text><text x="471.3">13</text><text x="518">14</text><text x="564.7">15</text><text x="611.3">16</text><text x="658">17</text><text x="704.7">18</text><text x="751.3">19</text><text x="798">20</text><text x="844.7">21</text><text x="891.3">22</text><text x="938">23</text><text x="984.7">24</text><text x="1031.3">25</text><text x="1078">26</text><text x="1124.7">27</text><text x="1171.3">28</text><text x="1218">29</text><text x="1264.7">30</text></g>
<g class="n" transform="translate(0,1486.5)"><text x="331.3">9</text><text x="378">10</text><text x="424.7">11</text><text x="471.3">12</text><text x="518">13</text><text x="564.7">14</text><text x="611.3">15</text><text x="658">16</text><text x="704.7">17</text><text x="751.3">18</text><text x="798">19</text><text x="844.7">20</text><text x="891.3">21</text><text x="938">22</text><text x="984.7">23</text><text x="1031.3">25</text><text x="1078">26</text><text x="1124.7">27</text><text x="1171.3">28</text><text x="1218">29</text><text x="1264.7">30</text></g>

<!-- WEIGHT ROWS -->
<rect x="253" y="1495" width="1035" height="61" fill="#fff"/>
<g fill="#e3e5e8">
<rect x="354.67" y="1495" width="46.67" height="61"/>
<rect x="448" y="1495" width="46.67" height="61"/>
<rect x="541.33" y="1495" width="46.67" height="61"/>
<rect x="634.67" y="1495" width="46.67" height="61"/>
<rect x="728" y="1495" width="46.67" height="61"/>
<rect x="821.33" y="1495" width="46.67" height="61"/>
<rect x="914.67" y="1495" width="46.67" height="61"/>
<rect x="1008" y="1495" width="46.67" height="61"/>
<rect x="1101.33" y="1495" width="46.67" height="61"/>
<rect x="1194.67" y="1495" width="46.67" height="61"/>
</g>
<rect x="253" y="1525" width="1035" height="1" fill="#eef0f2"/>
<rect x="153" y="1495" width="100" height="61" fill="#2d2d2d"/>
<text x="203" y="1533" text-anchor="middle" font-size="21" fill="#fff" textLength="75" lengthAdjust="spacingAndGlyphs">WEIGHT</text>
<text x="260" y="1517" font-size="22" fill="#333" textLength="25" lengthAdjust="spacingAndGlyphs">lbs</text>
<text x="260" y="1547" font-size="22" fill="#333" textLength="31" lengthAdjust="spacingAndGlyphs">kgs</text>
<polygon points="292,1503 292,1517 301,1510" fill="#e8333a"/>
<polygon points="295,1533 295,1547 304,1540" fill="#e8333a"/>
<g class="w" transform="translate(0,1518)"><text x="331.3">90</text><text x="378">100</text><text x="424.7">110</text><text x="471.3">120</text><text x="518">130</text><text x="564.7">140</text><text x="611.3">150</text><text x="658">160</text><text x="704.7">170</text><text x="751.3">180</text><text x="798">190</text><text x="844.7">200</text><text x="891.3">210</text><text x="938">220</text><text x="984.7">230</text><text x="1031.3">240</text><text x="1078">250</text><text x="1124.7">260</text><text x="1171.3">270</text><text x="1218">280</text><text x="1264.7">290</text></g>
<g class="w" transform="translate(0,1548)"><text x="331.3">41</text><text x="378">45</text><text x="424.7">50</text><text x="471.3">54</text><text x="518">59</text><text x="564.7">64</text><text x="611.3">68</text><text x="658">73</text><text x="704.7">77</text><text x="751.3">82</text><text x="798">86</text><text x="844.7">91</text><text x="891.3">95</text><text x="938">100</text><text x="984.7">104</text><text x="1031.3">109</text><text x="1078">113</text><text x="1124.7">118</text><text x="1171.3">122</text><text x="1218">127</text><text x="1264.7">132</text></g>

<!-- BOTTOM PANEL -->
<rect x="154" y="1569" width="1134" height="248" fill="#fff"/>
<text x="306" y="1597" font-size="25" fill="#8db56a" textLength="831" lengthAdjust="spacingAndGlyphs">Five Useful Points To Avoid Overweight And Maintain Optimal Well Being.</text>
<text class="b" x="172" y="1623" textLength="1097" lengthAdjust="spacingAndGlyphs"><tspan class="gr">1.Balanced and Nutritious Diet:</tspan> consisting of whole foods such as fruits, vegetables, whole grains, lean protein, and healthy fats can help to maintain a</text>
<text class="b" x="172" y="1642" textLength="1014" lengthAdjust="spacingAndGlyphs">healthy weight. Limiting processed and high-calorie foods and beverages, such as sugary drinks, desserts, and fast foods, can also be helpful.</text>
<text class="b" x="172" y="1667" textLength="1066" lengthAdjust="spacingAndGlyphs"><tspan class="gr">2. Regular Physical Activity:</tspan> is essential for maintaining a healthy weight. It can help burn calories, build muscle mass, and improve overall health.</text>
<text class="b" x="172" y="1685" textLength="689" lengthAdjust="spacingAndGlyphs">Aim for at least 150 minutes of moderate or 75 minutes of vigorous-intensity exercise per week.</text>
<text class="b" x="172" y="1710" textLength="1034" lengthAdjust="spacingAndGlyphs"><tspan class="gr">3. Adequate Sleep:</tspan> enough sleep is essential for overall health and can help with weight management. Lack of sleep can disrupt hormones that</text>
<text class="b" x="172" y="1728" textLength="458" lengthAdjust="spacingAndGlyphs">regulate appetite, leading to increased cravings and overeating.</text>
<text class="b" x="172" y="1753" textLength="1066" lengthAdjust="spacingAndGlyphs"><tspan class="gr">4. Portion Control:</tspan> is an important factor in avoiding being overweight. Eating smaller portions and avoiding overeating maintains a healthy weight.</text>
<text class="b" x="172" y="1778" textLength="1075" lengthAdjust="spacingAndGlyphs"><tspan class="gr">5. Regular Monitoring:</tspan> weight and body composition can help you identify changes and take necessary steps to avoid being overweight. Use the body</text>
<text class="b" x="172" y="1797" textLength="684" lengthAdjust="spacingAndGlyphs">mass index (BMI), waist circumference, and body fat percentage to monitor your weight status.</text>

<!-- FOOTER -->
<text x="449" y="1845" font-size="13.5" fill="#444" textLength="545" lengthAdjust="spacingAndGlyphs">This chart is for information only. Always consult a professional before making dietary changes.</text>
<text x="667" y="1863" font-size="13.5" fill="#444" textLength="109" lengthAdjust="spacingAndGlyphs">dietreminders.com</text>

<!-- RIGHT SIDE TEXT -->
<text class="rt" x="1378" y="1177" textLength="368" lengthAdjust="spacingAndGlyphs">Body Mass</text>
<text class="rt" x="1380" y="1277" textLength="331" lengthAdjust="spacingAndGlyphs">Index BMI</text>
<text class="rt" x="1378" y="1377" textLength="510" lengthAdjust="spacingAndGlyphs">Chart — Height</text>
<text class="rt" x="1378" y="1477" textLength="455" lengthAdjust="spacingAndGlyphs">Weight Guide</text>
<text class="rt" x="1376" y="1577" textLength="386" lengthAdjust="spacingAndGlyphs">for Healthy</text>
<text class="rt" x="1378" y="1677" textLength="499" lengthAdjust="spacingAndGlyphs">Weight Ranges</text>
<text class="rt" x="1378" y="1777" textLength="496" lengthAdjust="spacingAndGlyphs">— A4 Printable</text>
<text class="rt" x="1378" y="1877" textLength="514" lengthAdjust="spacingAndGlyphs">PDF Wall Chart</text>
</svg>
</body>
</html>
